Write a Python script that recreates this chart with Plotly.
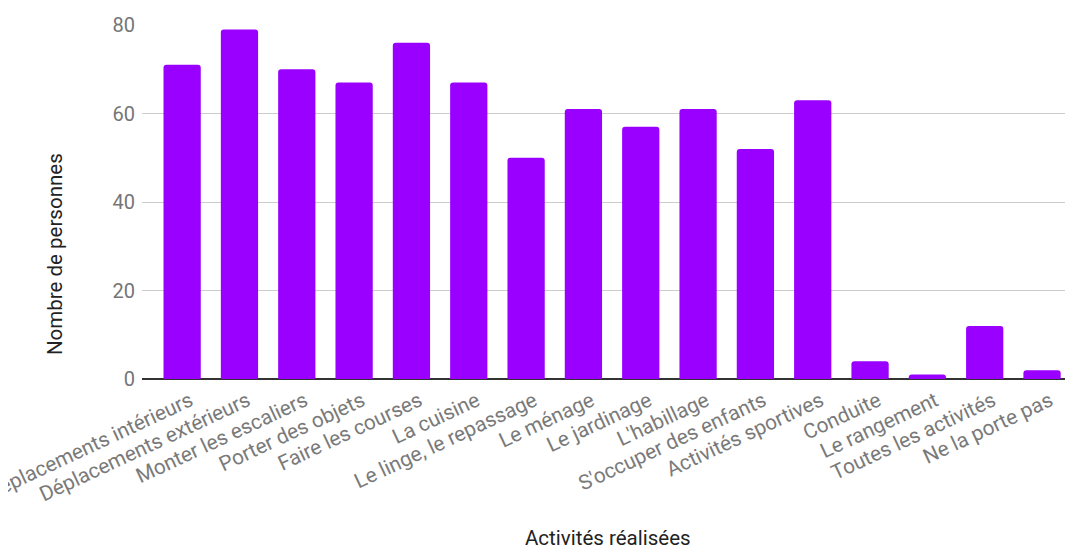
import plotly.graph_objects as go

categories = [
    "Déplacements intérieurs", "Déplacements extérieurs", "Monter les escaliers",
    "Porter des objets", "Faire les courses", "La cuisine", "Le linge, le repassage",
    "Le ménage", "Le jardinage", "L'habillage", "S'occuper des enfants",
    "Activités sportives", "Conduite", "Le rangement", "Toutes les activités",
    "Ne la porte pas",
]
values = [71, 79, 70, 67, 76, 67, 50, 61, 57, 61, 52, 63, 4, 1, 12, 2]
y_ticks = [0, 20, 40, 60, 80]

fig = go.Figure(go.Bar(
    x=list(range(len(categories))), y=values,
    marker=dict(color="#9900ff", line=dict(width=0)),
    width=0.65,
))

fig.update_layout(
    width=1065, height=542,
    margin=dict(l=134, r=0, t=17, b=171),
    paper_bgcolor="white", plot_bgcolor="white",
    font=dict(family="Roboto", size=20, color="#757575"),
    showlegend=False,
    barcornerradius=3,
    xaxis=dict(
        range=[-0.70, 15.54],
        tickmode="array", tickvals=list(range(len(categories))), ticktext=categories,
        tickangle=-25, showgrid=False, zeroline=False, showline=False,
        ticks="", automargin=False, ticklabeloverflow="allow",
        ticklabelshift=8, ticklabelstandoff=5,
        tickfont=dict(size=20.8, color="#7a7a7a"),
    ),
    yaxis=dict(
        range=[0, 80], tickmode="array", tickvals=y_ticks,
        showgrid=True, gridcolor="#cccccc", gridwidth=1,
        zeroline=True, zerolinecolor="#333333", zerolinewidth=1.5,
        showline=False, ticks="", automargin=False,
        tickfont=dict(size=20, color="#757575"),
        ticklabelstandoff=6,
    ),
    annotations=[
        dict(text="Activités réalisées", xref="paper", yref="paper",
             x=0.5, y=0, yshift=-159, xanchor="center", yanchor="middle",
             showarrow=False, font=dict(size=20.5, color="#222222")),
        dict(text="Nombre de personnes", xref="paper", yref="paper",
             x=0, xshift=-87, y=0.5, yshift=-52, textangle=-90,
             xanchor="center", yanchor="middle",
             showarrow=False, font=dict(size=20.5, color="#222222")),
    ],
)

fig.write_html("out.html")
